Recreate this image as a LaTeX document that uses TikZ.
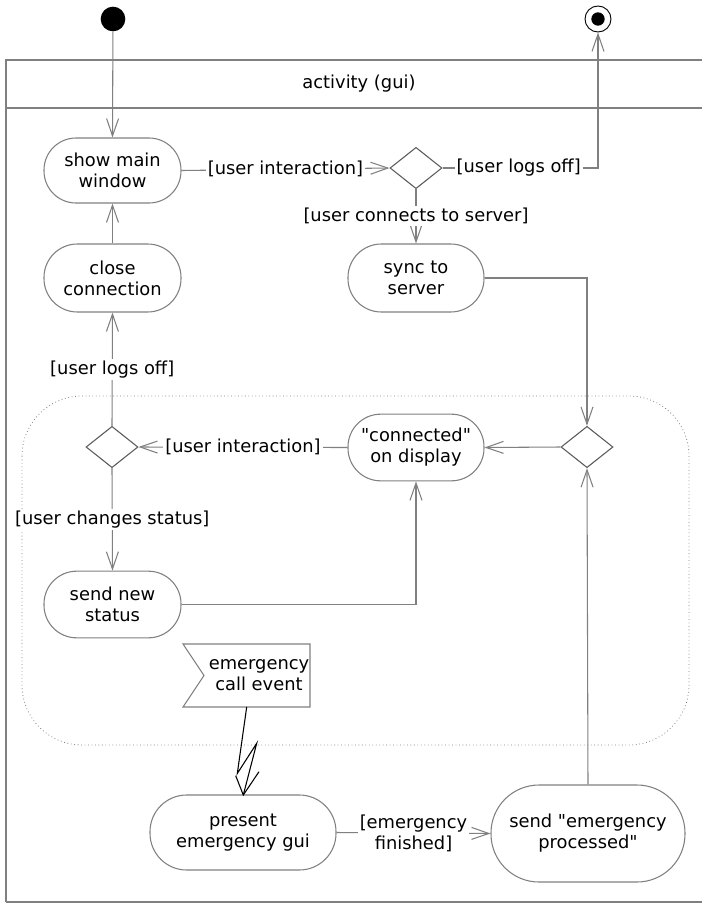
\documentclass[tikz,border=0pt]{standalone}
\usepackage{fontspec}
\setmainfont{DejaVu Sans}[Ligatures=TeXOff]
\usetikzlibrary{arrows.meta,shapes.geometric}
\definecolor{lg}{HTML}{808080}
\definecolor{dg}{HTML}{5A5A5A}
\tikzset{
  act/.style={draw=lg, line width=0.8pt, fill=white, align=center, inner sep=0pt},
  dec/.style={diamond, draw=dg, line width=0.8pt, fill=white, minimum width=39pt, minimum height=31pt, inner sep=0pt},
  arr/.style={draw=lg, line width=0.8pt, -{Straight Barb[length=13pt,width=9pt]}},
  conn/.style={draw=lg, line width=0.8pt},
  lbl/.style={fill=white, inner sep=1.5pt, align=center, text=black},
}
\begin{document}
\begin{tikzpicture}[x=0.75pt,y=-0.75pt, font=\fontsize{13.4}{15.75}\selectfont]
\useasboundingbox (0,0) rectangle (701,904);
% frame
\draw[lg, line width=1.1pt] (6,902) -- (6,60) -- (720,60);
\draw[lg, line width=1.1pt] (6,902) -- (720,902);
\draw[lg, line width=1.1pt] (6,108) -- (720,108);
\node (title) at (359,84) {activity (gui)};
% dotted region
\draw[lg, dotted, line width=0.6pt, rounded corners=45pt] (22,396) rectangle (689,745);
% initial / final
\node[circle, fill=black, minimum size=18.5pt, inner sep=0pt] (init) at (113,19) {};
\node[circle, draw=black, line width=0.7pt, minimum size=19.5pt, inner sep=0pt] (fin) at (598,19) {};
\node[circle, fill=black, minimum size=10pt, inner sep=0pt] (finin) at (598,19) {};
% actions
\node[act, minimum width=102.75pt, minimum height=48.75pt, rounded corners=24pt] (show) at (112.5,170.5) {show main\\window};
\node[act, minimum width=102.75pt, minimum height=51pt, rounded corners=25pt] (close) at (112.5,278) {close\\connection};
\node[act, minimum width=102pt, minimum height=51pt, rounded corners=25pt] (sync) at (416,278) {sync to\\server};
\node[act, minimum width=102pt, minimum height=50pt, rounded corners=24.5pt] (conn) at (416,447.5) {"connected"\\on display};
\node[act, minimum width=102.75pt, minimum height=50pt, rounded corners=24.5pt] (send) at (112.5,604.5) {send new\\status};
\node[act, minimum width=139.5pt, minimum height=56.25pt, rounded corners=27.5pt] (pres) at (243,832.5) {present\\emergency gui};
\node[act, minimum width=145.5pt, minimum height=72.75pt, rounded corners=36pt] (sendp) at (588,833.5) {send "emergency\\processed"};
% decisions
\node[dec] (d1) at (416,168) {};
\node[dec] (d2) at (112,447) {};
\node[dec] (d3) at (587,447) {};
% event flag
\draw[lg, line width=0.8pt, fill=white] (183,644) -- (310,644) -- (310,707) -- (183,707) -- (204,675.5) -- cycle;
\node[align=center] (ev) at (259,675.5) {emergency\\call event};
\coordinate (evb) at (246.7,707);
\coordinate (ltip) at (243.3,795);
% lightning
\draw[black, line width=0.8pt] (evb) -- (237.3,773.5) -- (256.7,743.3) -- (ltip);
\draw[black, line width=0.8pt] (235.7,775.7) -- (ltip) -- (259,771.7);
% connectors
\draw[arr] (init) -- (show.north);
\draw[arr] (show.east) -- node[lbl]{[user interaction]} (d1.west);
\draw[arr] (d1.east) -- node[lbl, pos=0.49]{[user logs off]} (d1.east -| fin.south) -- (fin.south);
\draw[arr] (d1.south) -- node[lbl]{[user connects to server]} (sync.north);
\draw[arr] (sync.east) -| (d3.north);
\draw[arr] (d3.west) -- (conn.east);
\draw[arr] (conn.west) -- node[lbl]{[user interaction]} (d2.east);
\draw[arr] (d2.north) -- node[lbl]{[user logs off]} (close.south);
\draw[arr] (d2.south) -- node[lbl]{[user changes status]} (send.north);
\draw[arr] (send.east) -| (conn.south);
\draw[arr] (close.north) -- (show.south);
\draw[arr] (pres.east) -- node[lbl]{[emergency\\finished]} (sendp.west);
\draw[arr] (sendp.north) -- (d3.south);
\end{tikzpicture}
\end{document}
